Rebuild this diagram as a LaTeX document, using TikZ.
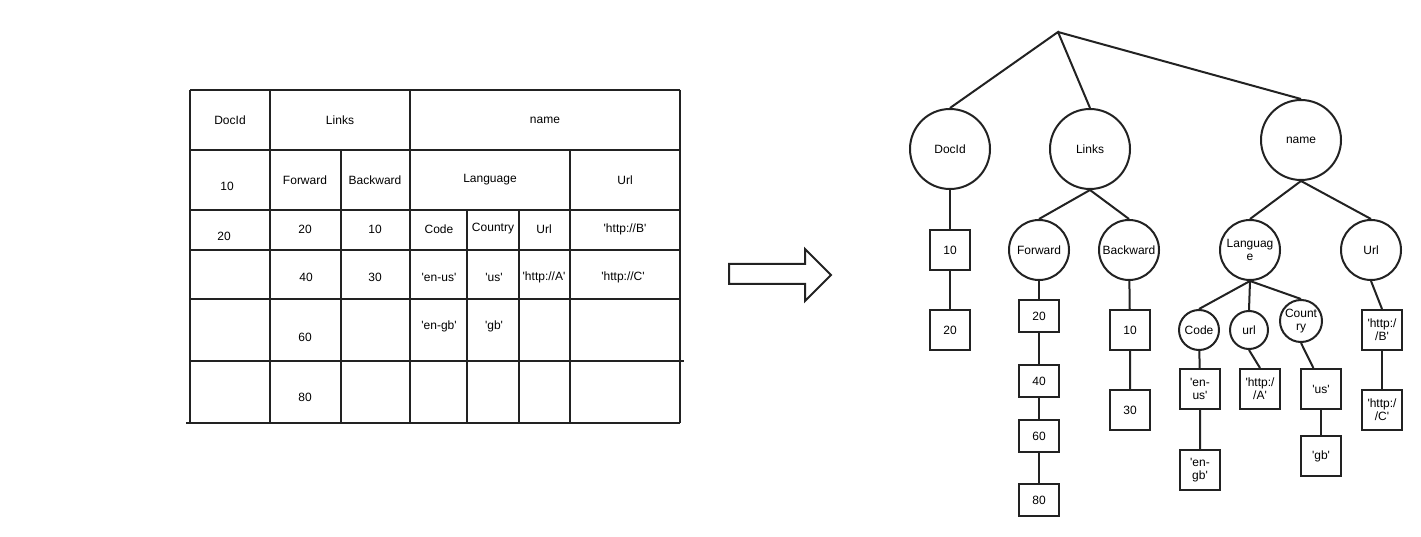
\documentclass[tikz,border=0pt]{standalone}
\usepackage{fontspec}
\setmainfont{Liberation Sans}
\newcommand{\qt}{\textquotesingle}
\definecolor{ink}{RGB}{34,34,34}
\begin{document}
\begin{tikzpicture}[x=1pt,y=-1pt,
  every node/.style={font=\fontsize{12}{13}\selectfont, inner sep=0pt, align=center},
  gridline/.style={draw=ink, line width=2.4pt},
  edge/.style={draw=ink, line width=2pt},
  bubble/.style={circle, draw=ink, line width=2pt, minimum size=#1},
  leaf/.style={rectangle, draw=ink, line width=2pt, minimum width=40pt, minimum height=#1},
  leaf/.default=40pt
]
\useasboundingbox (0,0) rectangle (1421,537);

% ---------- table ----------
\draw[gridline] (190,90) -- (680,90);
\draw[gridline] (190,150) -- (680,150);
\draw[gridline] (190,210) -- (680,210);
\draw[gridline] (190,250) -- (680,250);
\draw[gridline] (190,299) -- (680,299);
\draw[gridline] (190,361) -- (684,361);
\draw[gridline] (186,423) -- (680,423);
\draw[gridline] (190,90) -- (190,423);
\draw[gridline] (270,90) -- (270,423);
\draw[gridline] (341,150) -- (341,423);
\draw[gridline] (410,90) -- (410,423);
\draw[gridline] (467,210) -- (467,423);
\draw[gridline] (519,210) -- (519,423);
\draw[gridline] (570,150) -- (570,423);
\draw[gridline] (680,90) -- (680,423);

\node (hDoc)  at (230,120) {DocId};
\node (hLnk)  at (340,120) {Links};
\node (hName) at (545,120) {name};
\node (c10)   at (227,186) {10};
\node (hFw)   at (305,180) {Forward};
\node (hBw)   at (375,180) {Backward};
\node (hLang) at (490,180) {Language};
\node (hUrl)  at (625,180) {Url};
\node (c20)   at (224,236) {20};
\node (f20)   at (305,229) {20};
\node (b10)   at (375,229) {10};
\node (hCode) at (439,229) {Code};
\node (hCtry) at (493,229) {Country};
\node (hUrl2) at (544,229) {Url};
\node (uB)    at (625,229) {\qt http://B\qt};
\node (f40)   at (306,277) {40};
\node (b30)   at (375,277) {30};
\node (enus)  at (439,277) {\qt en-us\qt};
\node (us)    at (494,277) {\qt us\qt};
\node (uA)    at (544,277) {\qt http://A\qt};
\node (uC)    at (623,277) {\qt http://C\qt};
\node (f60)   at (305,337) {60};
\node (engb)  at (439,326) {\qt en-gb\qt};
\node (gb)    at (494,326) {\qt gb\qt};
\node (f80)   at (305,397) {80};

% ---------- arrow ----------
\draw[ink, line width=2pt, line join=miter]
  (729,264) -- (805,264) -- (805,249) -- (831,275) -- (805,301) -- (805,284) -- (729,284) -- cycle;

% ---------- tree ----------
\coordinate (root) at (1058,32);
\node[bubble=80pt] (tDoc)  at (950,149) {DocId};
\node[bubble=80pt] (tLnk)  at (1090,149) {Links};
\node[bubble=80pt] (tName) at (1301,140) {name};

\node[leaf] (d10) at (950,250) {10};
\node[leaf] (d20) at (950,330) {20};

\node[bubble=60pt] (tFw) at (1039,250) {Forward};
\node[bubble=60pt] (tBw) at (1129,250) {Backward};
\node[leaf=32pt] (tf20) at (1039,316) {20};
\node[leaf=32pt] (tf40) at (1039,381) {40};
\node[leaf=32pt] (tf60) at (1039,436) {60};
\node[leaf=32pt] (tf80) at (1039,500) {80};
\node[leaf] (tb10) at (1130,330) {10};
\node[leaf] (tb30) at (1130,410) {30};

\node[bubble=60pt] (tLang) at (1250,250) {Languag\\e};
\node[bubble=60pt] (tUrl)  at (1371,250) {Url};
\node[bubble=40pt] (tCode) at (1199,330) {Code};
\node[bubble=38pt] (tUrl2) at (1249,330) {url};
\node[bubble=42pt] (tCtry) at (1301,321) {Count\\ry};
\node[leaf] (tEnus) at (1200,389) {\qt en-\\us\qt};
\node[leaf] (tEngb) at (1200,470) {\qt en-\\gb\qt};
\node[leaf] (tUA)   at (1260,389) {\qt http:/\\/A\qt};
\node[leaf] (tUs)   at (1321,389) {\qt us\qt};
\node[leaf] (tGb)   at (1321,456) {\qt gb\qt};
\node[leaf] (tUB)   at (1382,330) {\qt http:/\\/B\qt};
\node[leaf] (tUC)   at (1382,410) {\qt http:/\\/C\qt};

\draw[edge] (tDoc.north) -- (root) -- (tLnk.north);
\draw[edge] (root) -- (tName.north);
\draw[edge] (tDoc) -- (d10) -- (d20);
\draw[edge] (tLnk.south) -- (tFw.north);
\draw[edge] (tLnk.south) -- (tBw.north);
\draw[edge] (tFw) -- (tf20) -- (tf40) -- (tf60) -- (tf80);
\draw[edge] (tBw) -- (tb10) -- (tb30);
\draw[edge] (tName.south) -- (tLang.north);
\draw[edge] (tName.south) -- (tUrl.north);
\draw[edge] (tLang.south) -- (tCode.north);
\draw[edge] (tLang.south) -- (tUrl2.north);
\draw[edge] (tLang.south) -- (tCtry.north);
\draw[edge] (tCode) -- (tEnus) -- (tEngb);
\draw[edge] (tUrl2.south) -- (tUA.north);
\draw[edge] (tCtry.south) -- (tUs.110);
\draw[edge] (tUs) -- (tGb);
\draw[edge] (tUrl.south) -- (tUB.north);
\draw[edge] (tUB) -- (tUC);
\end{tikzpicture}
\end{document}
